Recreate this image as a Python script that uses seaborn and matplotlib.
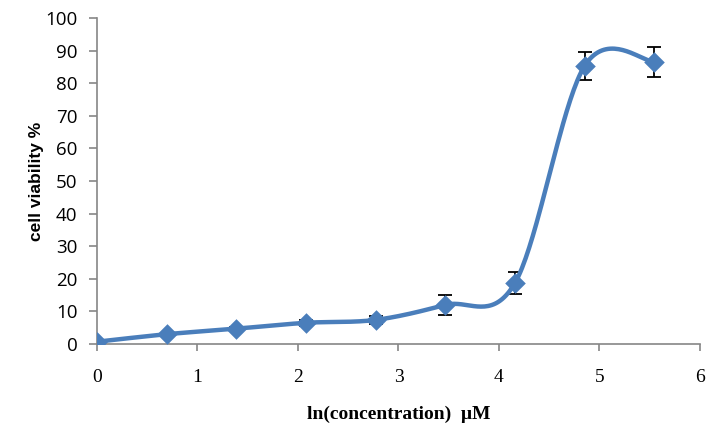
#importing module and library
import numpy as np
import pandas as pd
import seaborn as sns
import matplotlib
matplotlib.use("Agg")
import matplotlib.pyplot as plt

#data (x = ln of concentration)
ln_conc = [0.0, 0.693, 1.386, 2.079, 2.773, 3.466, 4.159, 4.852, 5.545]
viability = [0.7, 3.0, 4.7, 6.5, 7.4, 12.0, 18.7, 85.3, 86.6]
viability_err = [0.5, 0.5, 0.5, 1.0, 1.2, 3.0, 3.3, 4.2, 4.6]
x_ticks = [0, 1, 2, 3, 4, 5, 6]
y_ticks = [0, 10, 20, 30, 40, 50, 60, 70, 80, 90, 100]

line_color = "#4A7EBB"
axis_color = "#868686"

#smooth line through the points, like the spreadsheet "smoothed line" option
def smooth_curve(xs, ys, steps=40):
    pts = np.column_stack([xs, ys])
    n = len(pts)
    out = []
    for i in range(n - 1):
        p0 = pts[max(i - 1, 0)]
        p1 = pts[i]
        p2 = pts[i + 1]
        p3 = pts[min(i + 2, n - 1)]
        c1 = p1 + (p2 - p0) / 6.0
        c2 = p2 - (p3 - p1) / 6.0
        t = np.linspace(0, 1, steps)[:, None]
        seg = ((1 - t) ** 3) * p1 + 3 * ((1 - t) ** 2) * t * c1 \
            + 3 * (1 - t) * t ** 2 * c2 + t ** 3 * p2
        out.append(seg if i == 0 else seg[1:])
    return np.vstack(out)

points = pd.DataFrame({"x": ln_conc, "y": viability})
curve = smooth_curve(ln_conc, viability)
curve_df = pd.DataFrame({"x": curve[:, 0], "y": curve[:, 1]})

sns.set_style("white")
fig = plt.figure(figsize=(7.11, 4.26), dpi=100)
ax = fig.add_axes([0.1364, 0.1925, 0.848, 0.765])

#error bars first, then line and markers on top
ax.errorbar(ln_conc, viability, yerr=viability_err, fmt="none",
            ecolor="black", elinewidth=1.3, capsize=5, capthick=1.3, zorder=2)
sns.lineplot(data=curve_df, x="x", y="y", sort=False, color=line_color,
             linewidth=3.2, ax=ax, zorder=3, estimator=None)
sns.scatterplot(data=points, x="x", y="y", marker="D", s=110, color=line_color,
                edgecolor=line_color, linewidth=0, ax=ax, zorder=4)

ax.set_xlim(0, 6)
ax.set_ylim(0, 100)
ax.set_xticks(x_ticks)
ax.set_yticks(y_ticks)
ax.set_xticklabels([str(v) for v in x_ticks], fontfamily="Liberation Serif",
                   fontsize=14, color="black")
ax.set_yticklabels([str(v) for v in y_ticks], fontfamily="Open Sans",
                   fontsize=13.5, color="black")

for side in ["top", "right"]:
    ax.spines[side].set_visible(False)
for side in ["left", "bottom"]:
    ax.spines[side].set_color(axis_color)
    ax.spines[side].set_linewidth(1.2)

ax.tick_params(axis="y", direction="out", length=6, width=1.2, color=axis_color, pad=8, left=True)
ax.tick_params(axis="x", direction="out", length=5, width=1.2, color=axis_color, pad=13, bottom=True)

ax.set_xlabel("ln(concentration)  \u03bcM", fontfamily="Liberation Serif",
              fontweight="bold", fontsize=14, labelpad=14, color="black")
ax.set_ylabel("cell viability %", fontfamily="Liberation Sans",
              fontweight="bold", fontsize=12.5, labelpad=1, color="black")

plt.savefig("out.png", dpi=100)
